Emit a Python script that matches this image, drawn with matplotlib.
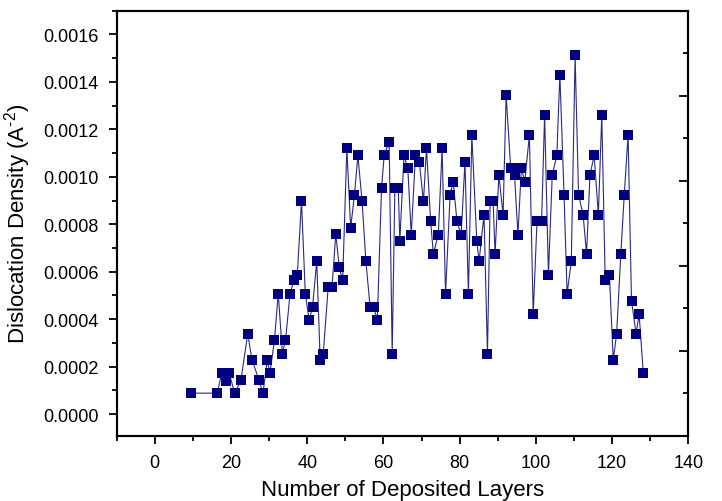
import matplotlib.pyplot as plt
import numpy as np
from matplotlib.ticker import MultipleLocator, FormatStrFormatter

plt.rcParams['font.family'] = ['Liberation Sans', 'DejaVu Sans']
plt.rcParams['mathtext.fontset'] = 'custom'
plt.rcParams['mathtext.rm'] = 'Liberation Sans'
plt.rcParams['mathtext.it'] = 'Liberation Sans:italic'

# number of deposited layers
layers = [9.5, 16.4, 17.55, 18.6, 19.5, 21.0, 22.6, 24.4, 25.5, 27.4,
          28.4, 29.5, 30.2, 31.4, 32.4, 33.5, 34.3, 35.5, 36.5, 37.4,
          38.5, 39.5, 40.5, 41.4, 42.5, 43.4, 44.2, 45.5, 46.5, 47.5,
          48.4, 49.3, 50.4, 51.4, 52.4, 53.3, 54.4, 55.4, 56.5, 57.4,
          58.4, 59.5, 60.2, 61.5, 62.3, 63.0, 63.9, 64.3, 65.4, 66.4,
          67.3, 68.4, 69.4, 70.5, 71.3, 72.4, 73.1, 74.4, 75.4, 76.3,
          77.5, 78.3, 79.3, 80.4, 81.4, 82.3, 83.2, 84.5, 85.1, 86.4,
          87.3, 88.0, 88.8, 89.3, 90.3, 91.4, 92.2, 93.4, 94.4, 95.3,
          96.2, 97.1, 98.3, 99.3, 100.3, 101.5, 102.3, 103.3, 104.3, 105.5,
          106.3, 107.4, 108.2, 109.3, 110.3, 111.2, 112.4, 113.3, 114.2, 115.3,
          116.4, 117.3, 118.2, 119.3, 120.3, 121.2, 122.3, 123.2, 124.2, 125.1,
          126.3, 127.1, 128.2]

# dislocation density (A^-2)
density = [0.000088, 0.000088, 0.000172, 0.000140, 0.000172, 0.000088, 0.000142, 0.000339, 0.000228, 0.000142,
           0.000088, 0.000228, 0.000172, 0.000311, 0.000507, 0.000255, 0.000311, 0.000507, 0.000564, 0.000588,
           0.000896, 0.000507, 0.000396, 0.000451, 0.000644, 0.000228, 0.000252, 0.000534, 0.000534, 0.000759,
           0.000619, 0.000563, 0.001120, 0.000784, 0.000924, 0.001090, 0.000896, 0.000644, 0.000451, 0.000451,
           0.000396, 0.000952, 0.001090, 0.001148, 0.000252, 0.000952, 0.000952, 0.000728, 0.001090, 0.001036,
           0.000756, 0.001090, 0.001064, 0.000896, 0.001120, 0.000812, 0.000675, 0.000756, 0.001120, 0.000507,
           0.000924, 0.000980, 0.000812, 0.000756, 0.001064, 0.000507, 0.001176, 0.000728, 0.000644, 0.000840,
           0.000252, 0.000896, 0.000896, 0.000675, 0.001008, 0.000840, 0.001345, 0.001036, 0.001008, 0.000756,
           0.001036, 0.000980, 0.001176, 0.000420, 0.000812, 0.000812, 0.001260, 0.000588, 0.001008, 0.001090,
           0.001430, 0.000924, 0.000507, 0.000644, 0.001512, 0.000924, 0.000840, 0.000675, 0.001008, 0.001090,
           0.000840, 0.001260, 0.000564, 0.000588, 0.000228, 0.000339, 0.000675, 0.000924, 0.001176, 0.000478,
           0.000339, 0.000420, 0.000172]

x_ticks = np.arange(0, 141, 20)
y_ticks = np.arange(0, 0.00161, 0.0002)

fig = plt.figure(figsize=(7.22, 5.02), dpi=100)
ax = fig.add_axes([0.1616, 0.1295, 0.7917, 0.8472])

ax.plot(layers, density, color="#2a2a85", linewidth=0.8, zorder=2)
ax.plot(layers, density, linestyle="none", marker="s", markersize=7.4,
        color="#000080", markeredgewidth=0, zorder=3)

ax.set_xlim(-10, 140)
ax.set_ylim(-0.0000925, 0.0017)
ax.set_xticks(x_ticks)
ax.xaxis.set_minor_locator(MultipleLocator(10))
ax.set_yticks(y_ticks)
ax.yaxis.set_minor_locator(MultipleLocator(0.0001))
ax.yaxis.set_major_formatter(FormatStrFormatter("%.4f"))

ax.tick_params(which="both", direction="out", width=1.3, labelsize=13)
ax.tick_params(which="major", length=6, pad=7)
ax.tick_params(which="minor", length=3.5)
ax.tick_params(top=False, right=False)
for s in ax.spines.values():
    s.set_linewidth(1.5)

ax.set_xlabel("Number of Deposited Layers", fontsize=16, labelpad=6)
ax.set_ylabel(r"Dislocation Density (A$^{\text{-2}}$)", fontsize=16, labelpad=7)

# right axis: ticks pointing inward, no labels
axr = ax.twinx()
axr.set_ylim(0, 10)
axr.set_yticks(np.arange(0, 11, 2))
axr.yaxis.set_minor_locator(MultipleLocator(1))
axr.tick_params(which="both", direction="in", width=1.3, labelright=False)
axr.tick_params(which="major", length=6.5)
axr.tick_params(which="minor", length=3.5)
for s in axr.spines.values():
    s.set_linewidth(1.5)

plt.savefig("out.png", dpi=100)
